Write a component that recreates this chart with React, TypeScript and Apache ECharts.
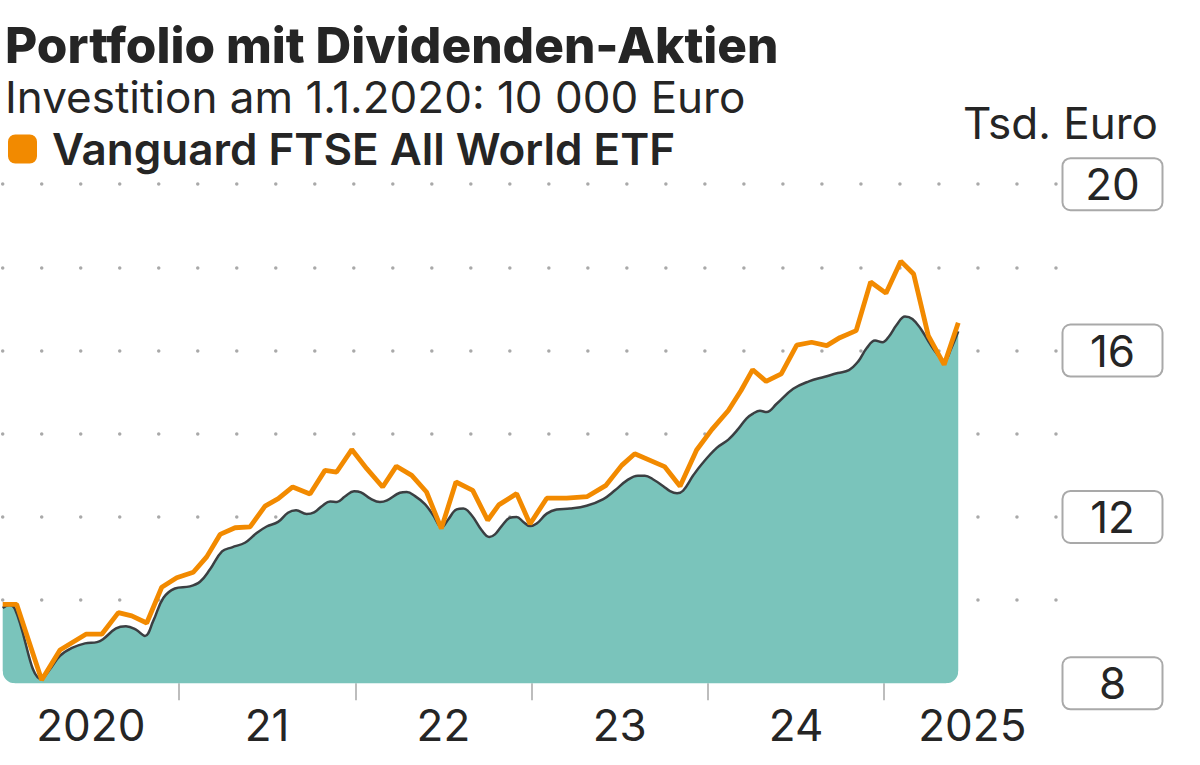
import React, { useEffect, useRef } from "react";
import * as echarts from "echarts";

// Vanguard FTSE All World ETF (orange line), x = decimal year, y = Tsd. Euro
const etfDates = [
  2020.0, 2020.079, 2020.221, 2020.325, 2020.472, 2020.562, 2020.656, 2020.732, 2020.817, 2020.902,
  2020.987, 2021.081, 2021.157, 2021.233, 2021.318, 2021.403, 2021.488, 2021.563, 2021.645, 2021.743,
  2021.828, 2021.894, 2021.98, 2022.065, 2022.155, 2022.233, 2022.32, 2022.404, 2022.488, 2022.571,
  2022.666, 2022.751, 2022.814, 2022.915, 2022.991, 2023.086, 2023.199, 2023.316, 2023.422, 2023.511,
  2023.585, 2023.754, 2023.842, 2023.936, 2024.022, 2024.116, 2024.188, 2024.254, 2024.33, 2024.416,
  2024.504, 2024.588, 2024.674, 2024.748, 2024.841, 2024.923, 2025.01, 2025.094, 2025.167, 2025.25,
  2025.34, 2025.42,
];
const etfValues = [
  9.9, 9.9, 8.08, 8.8, 9.18, 9.18, 9.7, 9.62, 9.45, 10.31,
  10.54, 10.67, 11.04, 11.58, 11.74, 11.76, 12.26, 12.44, 12.72, 12.55,
  13.12, 13.08, 13.62, 13.16, 12.72, 13.22, 13.0, 12.6, 11.72, 12.84,
  12.64, 11.92, 12.29, 12.56, 11.83, 12.45, 12.45, 12.49, 12.76, 13.24,
  13.52, 13.21, 12.74, 13.61, 14.1, 14.56, 15.04, 15.54, 15.26, 15.44,
  16.13, 16.2, 16.12, 16.31, 16.48, 17.65, 17.38, 18.15, 17.84, 16.36,
  15.66, 16.67,
];

// Portfolio mit Dividenden-Aktien (teal area)
const portfolioDates = [
  2020.0, 2020.036, 2020.07, 2020.221, 2020.268, 2020.325, 2020.393, 2020.467, 2020.535, 2020.569,
  2020.643, 2020.699, 2020.756, 2020.807, 2020.854, 2020.911, 2020.977, 2021.062, 2021.119, 2021.176,
  2021.244, 2021.301, 2021.374, 2021.437, 2021.497, 2021.562, 2021.618, 2021.664, 2021.724, 2021.766,
  2021.814, 2021.857, 2021.896, 2021.941, 2021.993, 2022.032, 2022.086, 2022.14, 2022.18, 2022.253,
  2022.292, 2022.339, 2022.395, 2022.442, 2022.49, 2022.527, 2022.575, 2022.613, 2022.66, 2022.717,
  2022.76, 2022.792, 2022.83, 2022.877, 2022.915, 2022.953, 2022.991, 2023.029, 2023.086, 2023.142,
  2023.218, 2023.312, 2023.407, 2023.473, 2023.541, 2023.603, 2023.643, 2023.69, 2023.747, 2023.785,
  2023.825, 2023.859, 2023.917, 2023.967, 2024.05, 2024.116, 2024.171, 2024.22, 2024.258, 2024.295,
  2024.333, 2024.39, 2024.484, 2024.573, 2024.663, 2024.737, 2024.8, 2024.853, 2024.901, 2024.948,
  2024.99, 2025.027, 2025.071, 2025.118, 2025.16, 2025.208, 2025.26, 2025.302, 2025.342, 2025.379,
  2025.42,
];
const portfolioValues = [
  9.81, 9.88, 9.78, 8.1, 8.34, 8.66, 8.85, 8.96, 8.99, 9.06,
  9.32, 9.37, 9.29, 9.14, 9.5, 10.05, 10.28, 10.33, 10.44, 10.74,
  11.17, 11.27, 11.38, 11.6, 11.77, 11.88, 12.1, 12.16, 12.07, 12.11,
  12.27, 12.37, 12.36, 12.49, 12.62, 12.59, 12.44, 12.36, 12.4, 12.58,
  12.6, 12.5, 12.31, 12.04, 11.75, 11.94, 12.18, 12.2, 12.04, 11.68,
  11.52, 11.58, 11.78, 11.98, 12.0, 11.88, 11.78, 11.84, 12.08, 12.18,
  12.2, 12.27, 12.43, 12.64, 12.88, 12.99, 12.99, 12.9, 12.74, 12.62,
  12.57, 12.63, 13.0, 13.28, 13.66, 13.86, 14.11, 14.37, 14.49, 14.55,
  14.52, 14.72, 15.08, 15.26, 15.37, 15.46, 15.53, 15.74, 16.06, 16.24,
  16.2, 16.34, 16.62, 16.82, 16.76, 16.52, 16.16, 15.91, 15.76, 16.04,
  16.46,
];

const yearTicks = [2021, 2022, 2023, 2024, 2025];
const yearLabelPositions = [2020.5, 2021.5, 2022.5, 2023.5, 2024.5, 2025.5];
const yearLabels = ["2020", "21", "22", "23", "24", "2025"];
const valueLabels = [8, 12, 16, 20];

const FONT = "Inter, 'Noto Sans', sans-serif";
const TEXT = "#252525";
const TEAL = "#7AC4BB";

export default function App() {
  const ref = useRef<HTMLDivElement>(null);

  useEffect(() => {
    const chart = echarts.init(ref.current!, null, { renderer: "svg" });
    const first = 0;
    const last = portfolioDates.length - 1;
    chart.setOption({
      animation: false,
      backgroundColor: "#ffffff",
      title: [
        {
          text: "Portfolio mit Dividenden-Aktien",
          left: 5,
          top: 20,
          padding: 0,
          textStyle: {
            fontSize: 49.5,
            lineHeight: 50,
            fontWeight: 800,
            color: TEXT,
            fontFamily: FONT,
          },
        },
        {
          text: "Investition am 1.1.2020: 10 000 Euro",
          left: 5,
          top: 77,
          padding: 0,
          textStyle: { fontSize: 44, lineHeight: 40, fontWeight: 400, color: TEXT, fontFamily: FONT },
        },
        {
          text: "Tsd. Euro",
          right: 42,
          top: 101,
          padding: 0,
          textStyle: { fontSize: 44, fontWeight: 400, color: TEXT, fontFamily: FONT },
        },
      ],
      legend: {
        data: [{ name: "Vanguard FTSE All World ETF", icon: "roundRect" }],
        left: 8,
        top: 127,
        padding: 0,
        itemWidth: 29,
        itemHeight: 29,
        selectedMode: false,
        textStyle: {
          fontSize: 44,
          fontWeight: 600,
          color: TEXT,
          fontFamily: FONT,
          padding: [0, 0, 0, 10],
        },
      },
      grid: { left: 2.7, top: 184.2, width: 1057.8, height: 499.1, containLabel: false },
      xAxis: {
        type: "value",
        min: 2020,
        max: 2026,
        axisLine: { show: false },
        splitLine: { show: false },
        axisTick: {
          show: true,
          customValues: yearTicks,
          length: 17,
          lineStyle: { color: "#bdbdbd", width: 2 },
        },
        axisLabel: {
          customValues: yearLabelPositions,
          formatter: (v: number) => {
            const i = yearLabelPositions.findIndex((p) => Math.abs(p - v) < 1e-6);
            return i >= 0 ? yearLabels[i] : "";
          },
          fontSize: 44,
          color: TEXT,
          fontFamily: FONT,
          margin: 20,
        },
      },
      yAxis: {
        type: "value",
        position: "right",
        min: 8,
        max: 20,
        interval: 2,
        axisLine: { show: false },
        axisTick: { show: false },
        splitLine: {
          show: true,
          showMinLine: false,
          lineStyle: { color: "#a9a9a9", width: 3.5, type: [0.01, 39], cap: "round" },
        },
        axisLabel: {
          customValues: valueLabels,
          margin: 52,
          align: "center",
          verticalAlign: "middle",
          width: 98,
          height: 50,
          lineHeight: 50,
          fontSize: 44,
          color: TEXT,
          fontFamily: FONT,
          backgroundColor: "#ffffff",
          borderColor: "#a9a9a9",
          borderWidth: 2,
          borderRadius: 7,
        },
      },
      series: [
        {
          type: "line",
          name: "Portfolio mit Dividenden-Aktien",
          data: portfolioDates.map((d, i) => [d, portfolioValues[i]]),
          smooth: 0.4,
          showSymbol: false,
          color: "#3b3f42",
          lineStyle: { color: "#3b3f42", width: 2.5 },
          areaStyle: { color: TEAL, opacity: 1, origin: "start" },
          z: 2,
        },
        {
          // rounded bottom corners of the area
          type: "custom",
          name: "corners",
          silent: true,
          clip: false,
          z: 2.5,
          data: [
            [portfolioDates[first], 8, -1],
            [portfolioDates[last], 8, 1],
          ],
          renderItem: (params: any, api: any) => {
            const p = api.coord([api.value(0), api.value(1)]);
            const side = api.value(2);
            const r = 12;
            const x = p[0];
            const y = p[1];
            let d: string;
            if (side < 0) {
              d = `M${x - 3} ${y + 2} L${x - 3} ${y - r} L${x} ${y - r} A${r} ${r} 0 0 0 ${x + r} ${y} L${x + r} ${y + 2} Z`;
            } else {
              d = `M${x + 3} ${y + 2} L${x + 3} ${y - r} L${x} ${y - r} A${r} ${r} 0 0 1 ${x - r} ${y} L${x - r} ${y + 2} Z`;
            }
            return { type: "path", shape: { pathData: d }, style: { fill: "#ffffff" } };
          },
        },
        {
          type: "line",
          name: "Vanguard FTSE All World ETF",
          data: etfDates.map((d, i) => [d, etfValues[i]]),
          showSymbol: false,
          color: "#F28A00",
          lineStyle: { color: "#F28A00", width: 4.8 },
          z: 3,
        },
      ],
    });
    return () => chart.dispose();
  }, []);

  return (
    <div
      ref={ref}
      style={{ position: "absolute", left: 0, top: 0, width: 1200, height: 765 }}
    />
  );
}
